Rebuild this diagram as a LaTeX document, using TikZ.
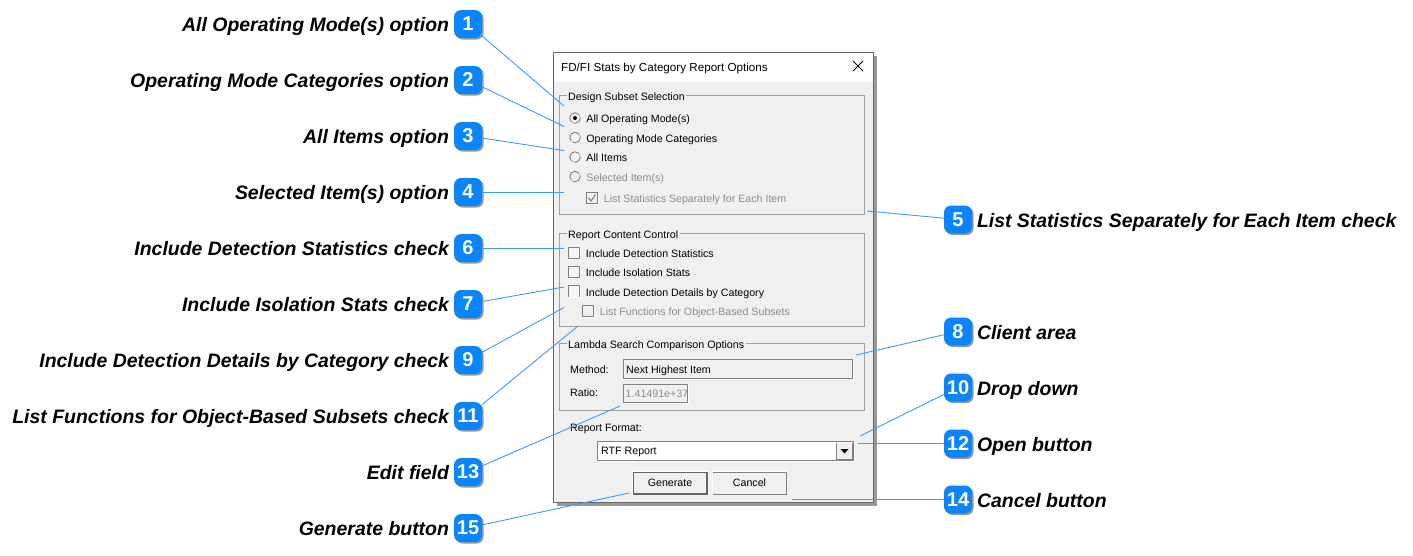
\documentclass[tikz,border=0pt]{standalone}
\usepackage{fontspec}
\setmainfont{Liberation Sans}
\usetikzlibrary{positioning, shadows}
\definecolor{badgeblue}{HTML}{0A84FF}
\definecolor{leaderblue}{HTML}{3D9BF5}
\definecolor{panel}{HTML}{F0F0F0}
\definecolor{framegray}{HTML}{A0A0A0}
\definecolor{dimtext}{HTML}{8C8C8C}

\begin{document}
\begin{tikzpicture}
	% style
	[x=1pt, y=-1pt,
	badge/.style={rectangle, rounded corners=7pt, fill=badgeblue, text=white, inner sep=0pt, outer sep=0pt, minimum size=28pt, font=\fontsize{20}{20}\selectfont\bfseries, drop shadow={shadow xshift=1.6pt, shadow yshift=-1.6pt, opacity=0.4, fill=black}},
	callout/.style={inner sep=0pt, outer sep=0pt, text height=18pt, text depth=3pt, font=\fontsize{19.45}{24}\selectfont\bfseries\itshape},
	leader/.style={draw=leaderblue, line width=0.9pt},
	group_box/.style={draw=framegray, line width=0.9pt},
	group_title/.style={fill=panel, inner sep=1.5pt, text height=11pt, text depth=2.5pt, font=\fontsize{10.7}{13}\selectfont},
	item/.style={inner sep=0pt, node distance=5.5pt, text height=11pt, text depth=2pt, font=\fontsize{10.65}{13}\selectfont},
	item_off/.style={item, text=dimtext},
	sunken/.style={rectangle, draw=gray, line width=1pt, inner sep=0pt, append after command={(\tikzlastnode.south west) edge[white, line width=1pt] (\tikzlastnode.south east) (\tikzlastnode.south east) edge[white, line width=1pt] (\tikzlastnode.north east)}},
	raised/.style={rectangle, draw=gray, fill=panel, line width=1pt, inner sep=0pt, minimum height=22pt, font=\fontsize{10.65}{13}\selectfont, append after command={(\tikzlastnode.south west) edge[white, line width=1pt] (\tikzlastnode.north west) (\tikzlastnode.north west) edge[white, line width=1pt] (\tikzlastnode.north east)}},
	radio/.style={circle, draw=gray, fill=black!4, line width=0.9pt, inner sep=0pt, minimum size=10.5pt, append after command={(\tikzlastnode.south west) edge[white, bend right=80] (\tikzlastnode.north east)}},
	radio_off/.style={radio, fill=panel},
	tick_box/.style={sunken, fill=black!4, minimum size=11.5pt},
	tick_off/.style={tick_box, fill=panel}]

	\useasboundingbox (0,0) rectangle (1413,555);

	% dialog
	\node [rectangle, draw=black!60, fill=panel, line width=1pt, anchor=north west, inner sep=0pt, minimum width=320pt, minimum height=450pt, drop shadow={shadow xshift=3pt, shadow yshift=-3pt, opacity=0.4, fill=black}] (dialog) at (553,52) {};
	\fill [white] (553.5,52.5) rectangle (872.5,82);
	\node [inner sep=0pt, anchor=west, text height=11pt, text depth=3pt, font=\fontsize{11.65}{14}\selectfont] (dlg_title) at (561,67) {FD/FI Stats by Category Report Options};
	\draw [line width=1pt] (853,61) -- (863,71) (863,61) -- (853,71);

	% design subset
	\draw [group_box] (559.5,95.5) rectangle (864,214.5);
	\node [group_title, anchor=west] (design_title) at (566.5,96) {Design Subset Selection};
	\node [radio] (r_all) at (575,118) {};
	\fill (r_all) circle (2pt);
	\node [item, right=of r_all] (r_all_txt) {All Operating Mode(s)};
	\node [radio] (r_cat) at (575,137.5) {};
	\node [item, right=of r_cat] (r_cat_txt) {Operating Mode Categories};
	\node [radio] (r_items) at (575,157) {};
	\node [item, right=of r_items] (r_items_txt) {All Items};
	\node [radio_off] (r_sel) at (575,176.5) {};
	\node [item_off, right=of r_sel] (r_sel_txt) {Selected Item(s)};
	\node [tick_off] (c_each) at (592,198) {};
	\draw [dimtext, line width=1.3pt] (588.5,198) -- (591,201) -- (595.5,194.5);
	\node [item_off, right=of c_each] (c_each_txt) {List Statistics Separately for Each Item};

	% report content
	\draw [group_box] (559.5,233.5) rectangle (864,326.5);
	\node [group_title, anchor=west] (report_title) at (566.5,234) {Report Content Control};
	\node [tick_box] (c_stats) at (574,253) {};
	\node [item, right=of c_stats] (c_stats_txt) {Include Detection Statistics};
	\node [tick_box] (c_iso) at (574,272) {};
	\node [item, right=of c_iso] (c_iso_txt) {Include Isolation Stats};
	\node [tick_box] (c_det) at (574,291.5) {};
	\node [item, right=of c_det] (c_det_txt) {Include Detection Details by Category};
	\node [tick_off] (c_func) at (588,311) {};
	\node [item_off, right=of c_func] (c_func_txt) {List Functions for Object-Based Subsets};

	% lambda search
	\draw [group_box] (559.5,343.5) rectangle (864,410.5);
	\node [group_title, anchor=west] (lambda_title) at (566.5,344) {Lambda Search Comparison Options};
	\node [item, anchor=west] (method_txt) at (570,368.5) {Method:};
	\node [sunken, fill=panel, anchor=north west, minimum width=229pt, minimum height=19pt] (f_method) at (623,359) {};
	\node [item, anchor=west] (f_method_txt) at (626,369) {Next Highest Item};
	\node [item, anchor=west] (ratio_txt) at (570,392) {Ratio:};
	\node [sunken, fill=panel, anchor=north west, minimum width=64pt, minimum height=18pt] (f_ratio) at (623,384) {};
	\begin{scope}
		\clip (624,385) rectangle (686,402);
		\node [item_off, anchor=west] (f_ratio_txt) at (625.5,392.5) {1.41491e+37};
	\end{scope}

	% format and buttons
	\node [item, anchor=west] (format_txt) at (570,426.5) {Report Format:};
	\node [sunken, fill=white, anchor=north west, minimum width=256pt, minimum height=19pt] (drop_down) at (597,441) {};
	\node [item, anchor=west] (drop_txt) at (601,450) {RTF Report};
	\node [raised, anchor=north east, minimum width=16pt, minimum height=17pt] (drop_btn) at (852.5,442) {};
	\fill (840.5,449) -- (848.5,449) -- (844.5,453.5) -- cycle;
	\node [raised, draw=black!60, line width=1.2pt, minimum width=74pt] (b_gen) at (670,483) {Generate};
	\node [raised, minimum width=74pt] (b_can) at (749.5,483) {Cancel};

	% left badges
	\node [badge] (badge_1) at (468,24) [label={[callout, label distance=5pt]left:All Operating Mode(s) option}] {1};
	\node [badge, below=28pt of badge_1] (badge_2) [label={[callout, label distance=5pt]left:Operating Mode Categories option}] {2};
	\node [badge, below=28pt of badge_2] (badge_3) [label={[callout, label distance=5pt]left:All Items option}] {3};
	\node [badge, below=28pt of badge_3] (badge_4) [label={[callout, label distance=5pt]left:Selected Item(s) option}] {4};
	\node [badge, below=28pt of badge_4] (badge_6) [label={[callout, label distance=5pt]left:Include Detection Statistics check}] {6};
	\node [badge, below=28pt of badge_6] (badge_7) [label={[callout, label distance=5pt]left:Include Isolation Stats check}] {7};
	\node [badge, below=28pt of badge_7] (badge_9) [label={[callout, label distance=5pt]left:Include Detection Details by Category check}] {9};
	\node [badge, below=28pt of badge_9] (badge_11) [label={[callout, label distance=5pt]left:List Functions for Object-Based Subsets check}] {11};
	\node [badge, below=28pt of badge_11] (badge_13) [label={[callout, label distance=5pt]left:Edit field}] {13};
	\node [badge, below=28pt of badge_13] (badge_15) [label={[callout, label distance=5pt]left:Generate button}] {15};

	% right badges
	\node [badge] (badge_5) at (958,219.5) [label={[callout, label distance=5pt]right:List Statistics Separately for Each Item check}] {5};
	\node [badge, below=84pt of badge_5] (badge_8) [label={[callout, label distance=5pt]right:Client area}] {8};
	\node [badge, below=28pt of badge_8] (badge_10) [label={[callout, label distance=5pt]right:Drop down}] {10};
	\node [badge, below=28pt of badge_10] (badge_12) [label={[callout, label distance=5pt]right:Open button}] {12};
	\node [badge, below=28pt of badge_12] (badge_14) [label={[callout, label distance=5pt]right:Cancel button}] {14};

	% leader ends
	\coordinate (end_1) at (564,106);
	\coordinate (end_2) at (564,126.5);
	\coordinate (end_3) at (564,150.5);
	\coordinate (end_4) at (564,192);
	\coordinate (end_5) at (867,211);
	\coordinate (end_6) at (564,248);
	\coordinate (end_7) at (564,287);
	\coordinate (end_9) at (564,307.5);
	\coordinate (end_11) at (578,326);
	\coordinate (end_13) at (620,406);
	\coordinate (end_15) at (629,493);
	\coordinate (end_8) at (856,355);
	\coordinate (end_10) at (860,436);
	\coordinate (end_12) at (858,443.5);
	\coordinate (end_14) at (792,499.5);

	\path[leader] (badge_1)		edge (end_1)
	              (badge_2)		edge (end_2)
	              (badge_3)		edge (end_3)
	              (badge_4)		edge (end_4)
	              (badge_5)		edge (end_5)
	              (badge_6)		edge (end_6)
	              (badge_7)		edge (end_7)
	              (badge_8)		edge (end_8)
	              (badge_9)		edge (end_9)
	              (badge_10)	edge (end_10)
	              (badge_11)	edge (end_11)
	              (badge_12)	edge (end_12)
	              (badge_13)	edge (end_13)
	              (badge_14)	edge (end_14)
	              (badge_15)	edge (end_15);
\end{tikzpicture}
\end{document}
